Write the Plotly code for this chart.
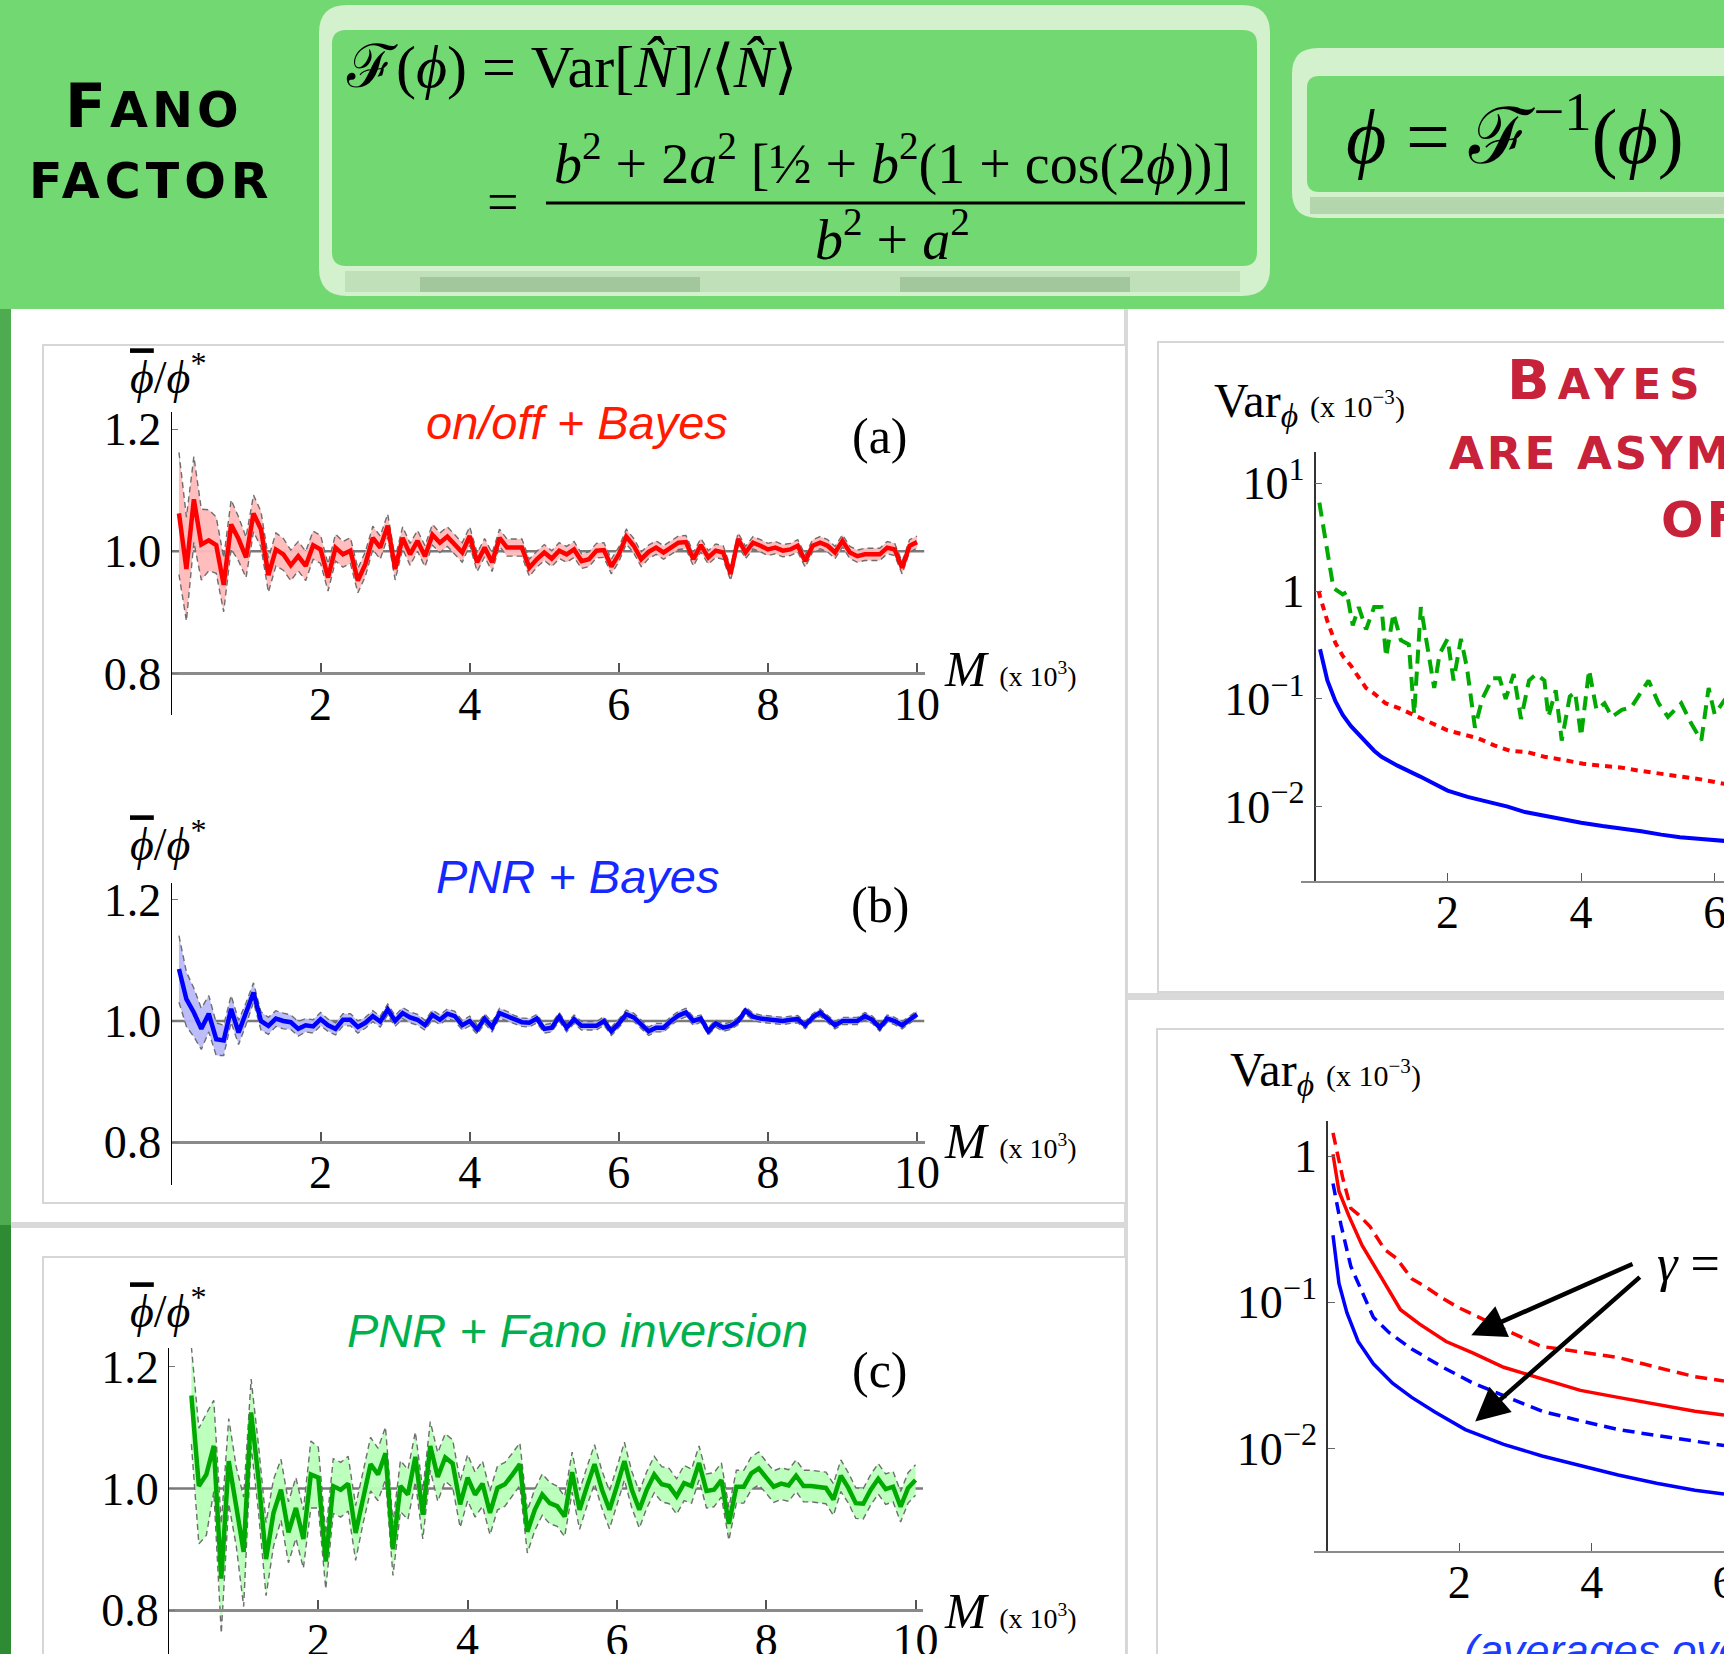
import numpy as np
import plotly.graph_objects as go

W, H = 1724, 1654
SERIF = "Liberation Serif, Times New Roman, serif"
SANS = "Liberation Sans, Arial, sans-serif"
CAPS = "DejaVu Sans, sans-serif"


def px(x):
    return x / W


def py(y):
    return 1 - y / H


# ---------------- data ----------------
M_AB = [round(0.1 * k, 1) for k in range(1, 101)]
M_C = [round(0.1 * k, 1) for k in range(3, 101)]

PHI_A = [1.062, 0.971, 1.085, 1.011, 1.018, 1.010, 0.945, 1.044, 1.020, 0.990,
         1.062, 1.036, 0.961, 1.003, 0.995, 0.977, 0.992, 0.976, 1.010, 1.003,
         0.957, 1.006, 0.995, 1.001, 0.952, 0.979, 1.022, 1.006, 1.042, 0.971,
         1.022, 0.995, 1.017, 0.992, 1.027, 1.014, 1.024, 1.011, 0.998, 1.025,
         0.982, 1.006, 0.982, 1.022, 1.006, 1.006, 1.006, 0.973, 0.987, 0.998,
         0.988, 1.001, 0.995, 1.003, 0.984, 0.987, 1.001, 1.002, 0.975, 0.995,
         1.024, 1.009, 0.987, 0.999, 1.006, 0.998, 1.006, 1.014, 1.015, 0.987,
         1.010, 0.990, 1.001, 0.998, 0.963, 1.020, 0.998, 1.014, 1.009, 1.003,
         1.006, 1.001, 1.003, 1.009, 0.984, 1.009, 1.014, 1.009, 0.998, 1.017,
         0.998, 0.992, 0.995, 0.995, 0.995, 1.006, 1.003, 0.973, 1.009, 1.015]
SIG_A = [0.100, 0.085, 0.070, 0.058, 0.050, 0.046, 0.044, 0.040, 0.036, 0.033,
         0.030, 0.029, 0.028, 0.027, 0.026, 0.025, 0.024, 0.024, 0.023, 0.023,
         0.022, 0.022, 0.021, 0.021, 0.020, 0.020, 0.019, 0.019, 0.019, 0.018,
         0.018, 0.018, 0.017, 0.017, 0.017, 0.016, 0.016, 0.016, 0.016, 0.015,
         0.015, 0.015, 0.015, 0.014, 0.014, 0.014, 0.014, 0.014, 0.013, 0.013,
         0.013, 0.013, 0.013, 0.013, 0.012, 0.012, 0.012, 0.012, 0.012, 0.012,
         0.012, 0.012, 0.012, 0.011, 0.011, 0.011, 0.011, 0.011, 0.011, 0.011,
         0.011, 0.011, 0.011, 0.011, 0.011, 0.010, 0.010, 0.010, 0.010, 0.010,
         0.010, 0.010, 0.010, 0.010, 0.010, 0.010, 0.010, 0.010, 0.010, 0.010,
         0.010, 0.010, 0.010, 0.010, 0.010, 0.010, 0.010, 0.010, 0.010, 0.010]

PHI_B = [1.086, 1.036, 1.014, 0.987, 1.012, 0.970, 0.968, 1.020, 0.981, 1.012,
         1.047, 1.000, 0.992, 1.004, 1.000, 0.998, 0.987, 0.993, 0.991, 1.003,
         0.993, 0.987, 1.002, 1.002, 0.990, 0.997, 1.008, 0.999, 1.019, 1.000,
         1.013, 1.006, 1.002, 0.993, 1.010, 1.002, 1.012, 1.008, 0.993, 1.000,
         0.986, 1.004, 0.990, 1.013, 1.008, 1.002, 0.998, 0.997, 1.004, 0.987,
         0.989, 1.007, 0.989, 1.003, 0.992, 0.992, 0.992, 1.000, 0.983, 0.996,
         1.011, 1.006, 0.994, 0.983, 0.989, 0.989, 1.000, 1.009, 1.014, 1.000,
         1.004, 0.983, 0.996, 0.989, 0.992, 1.000, 1.017, 1.007, 1.004, 1.003,
         1.002, 1.000, 1.002, 1.003, 0.993, 1.006, 1.014, 1.004, 0.993, 1.000,
         1.000, 1.000, 1.008, 1.002, 0.989, 1.004, 1.000, 0.993, 1.002, 1.011]
SIG_B = [0.055, 0.045, 0.040, 0.034, 0.030, 0.027, 0.025, 0.022, 0.020, 0.018,
         0.016, 0.015, 0.014, 0.013, 0.013, 0.012, 0.012, 0.011, 0.011, 0.011,
         0.010, 0.010, 0.010, 0.010, 0.010, 0.009, 0.009, 0.009, 0.009, 0.009,
         0.009, 0.009, 0.009, 0.008, 0.008, 0.008, 0.008, 0.008, 0.008, 0.008,
         0.008, 0.008, 0.008, 0.008, 0.008, 0.007, 0.007, 0.007, 0.007, 0.007,
         0.007, 0.007, 0.007, 0.007, 0.007, 0.007, 0.007, 0.007, 0.007, 0.007,
         0.007, 0.007, 0.007, 0.007, 0.007, 0.007, 0.007, 0.007, 0.007, 0.007,
         0.006, 0.006, 0.006, 0.006, 0.006, 0.006, 0.006, 0.006, 0.006, 0.006,
         0.006, 0.006, 0.006, 0.006, 0.006, 0.006, 0.006, 0.006, 0.006, 0.006,
         0.006, 0.006, 0.006, 0.006, 0.006, 0.006, 0.006, 0.006, 0.006, 0.006]

PHI_C = [1.153, 1.004, 1.023, 1.070, 0.852, 1.045, 0.971, 0.896, 1.125, 1.015,
         0.884, 0.960, 0.998, 0.928, 0.968, 0.917, 1.023, 1.018, 0.880, 1.004,
         0.998, 1.008, 0.927, 0.987, 1.040, 1.023, 1.058, 0.900, 1.004, 0.990,
         1.052, 0.957, 1.070, 1.019, 1.051, 1.041, 0.974, 1.018, 0.990, 1.008,
         0.960, 1.001, 1.007, 1.023, 1.040, 0.929, 0.965, 0.990, 0.976, 0.971,
         0.954, 1.027, 0.965, 1.004, 1.040, 0.998, 0.965, 1.004, 1.045, 0.998,
         0.965, 0.998, 1.023, 1.007, 1.004, 0.987, 1.009, 1.004, 1.042, 0.996,
         0.998, 1.014, 0.942, 1.003, 1.003, 1.025, 1.033, 1.018, 1.003, 1.008,
         1.005, 1.021, 1.004, 1.004, 1.003, 1.001, 0.982, 1.021, 1.001, 0.976,
         0.975, 0.998, 1.016, 0.999, 1.003, 0.970, 1.001, 1.014]
SIG_C = [0.080, 0.095, 0.100, 0.075, 0.090, 0.070, 0.065, 0.090, 0.055, 0.055,
         0.060, 0.055, 0.050, 0.050, 0.050, 0.048, 0.055, 0.050, 0.045, 0.045,
         0.045, 0.045, 0.045, 0.044, 0.044, 0.043, 0.043, 0.043,
         0.042, 0.041, 0.041, 0.040, 0.040, 0.040, 0.039, 0.039, 0.038, 0.038,
         0.037, 0.037, 0.036, 0.036, 0.036, 0.035, 0.035, 0.035, 0.034, 0.034,
         0.034, 0.033, 0.033, 0.033, 0.032, 0.032, 0.032, 0.031, 0.031, 0.031,
         0.031, 0.030, 0.030, 0.030, 0.030, 0.029, 0.029, 0.029, 0.029, 0.028,
         0.028, 0.028, 0.028, 0.028, 0.027, 0.027, 0.027, 0.027, 0.027, 0.026,
         0.026, 0.026, 0.026, 0.026, 0.026, 0.026, 0.026, 0.026, 0.026, 0.026,
         0.025, 0.025, 0.025, 0.025, 0.025, 0.025, 0.025, 0.025, 0.025, 0.025]

# right-top panel (Var_phi, x 1e-3)
M_FANO = [0.08, 0.29, 0.43, 0.49, 0.58, 0.67, 0.78, 0.90, 1.01, 1.08, 1.19, 1.30, 1.42, 1.50,
          1.60, 1.71, 1.80, 1.88, 2.00, 2.09, 2.20, 2.29, 2.41, 2.52, 2.67, 2.78, 2.87, 2.99,
          3.10, 3.22, 3.33, 3.45, 3.51, 3.62, 3.71, 3.83, 3.91, 4.00, 4.12, 4.23, 4.35, 4.46,
          4.61, 4.75, 4.87, 5.01, 5.16, 5.30, 5.50, 5.65, 5.80, 5.91, 6.00, 6.16]
VAR_FANO = [6.61, 1.07, 0.93, 0.98, 0.48, 0.71, 0.44, 0.71, 0.71, 0.245, 0.62, 0.35, 0.32, 0.072,
            0.71, 0.28, 0.126, 0.26, 0.36, 0.148, 0.36, 0.195, 0.054, 0.10, 0.155, 0.155, 0.10, 0.17,
            0.065, 0.148, 0.17, 0.148, 0.068, 0.12, 0.041, 0.105, 0.115, 0.045, 0.186, 0.079, 0.091,
            0.068, 0.079, 0.083, 0.11, 0.148, 0.091, 0.068, 0.091, 0.059, 0.041, 0.126, 0.072, 0.10]
M_ONOFF = [0.07, 0.09, 0.2, 0.32, 0.43, 0.55, 0.67, 0.78, 0.9, 1.07, 1.25, 1.48, 1.75, 2.0, 2.25,
           2.46, 2.7, 2.93, 3.2, 3.45, 3.75, 4.03, 4.3, 4.61, 4.9, 5.19, 5.5, 5.77, 6.16]
VAR_ONOFF = [1.0, 0.89, 0.525, 0.33, 0.25, 0.204, 0.158, 0.126, 0.112, 0.091, 0.083, 0.072, 0.060,
             0.051, 0.047, 0.043, 0.037, 0.033, 0.032, 0.029, 0.027, 0.025, 0.024, 0.023, 0.0214,
             0.020, 0.019, 0.018, 0.0162]
M_PNR = [0.09, 0.2, 0.32, 0.43, 0.55, 0.67, 0.78, 0.9, 1.01, 1.25, 1.59, 2.0, 2.3, 2.58, 2.9, 3.16,
         3.5, 3.74, 4.0, 4.32, 4.6, 4.9, 5.2, 5.48, 5.8, 6.16]
VAR_PNR = [0.288, 0.148, 0.095, 0.071, 0.056, 0.047, 0.039, 0.033, 0.029, 0.024, 0.019, 0.0141,
           0.0123, 0.0112, 0.0100, 0.0089, 0.0081, 0.0076, 0.0071, 0.0066, 0.0063, 0.0059, 0.0055,
           0.0052, 0.0050, 0.0048]

# right-bottom panel (gamma comparison)
M_RD = [0.09, 0.24, 0.36, 0.47, 0.65, 0.87, 1.05, 1.28, 1.51, 1.74, 1.97, 2.31, 2.66, 3.24, 3.83,
        4.4, 4.98, 5.56, 6.0]
VAR_RD = [1.44, 0.70, 0.44, 0.40, 0.33, 0.23, 0.20, 0.145, 0.126, 0.107, 0.093, 0.078, 0.066,
          0.050, 0.046, 0.042, 0.036, 0.031, 0.029]
M_RS = [0.09, 0.18, 0.33, 0.53, 0.82, 1.11, 1.4, 1.8, 2.21, 2.67, 3.25, 3.83, 4.4, 4.98, 5.56, 6.0]
VAR_RS = [1.03, 0.575, 0.39, 0.245, 0.148, 0.089, 0.071, 0.054, 0.045, 0.036, 0.030, 0.025,
          0.0224, 0.020, 0.018, 0.017]
M_BD = [0.09, 0.21, 0.36, 0.53, 0.7, 0.94, 1.28, 1.75, 2.21, 2.67, 3.25, 3.83, 4.4, 4.98, 5.56, 6.0]
VAR_BD = [0.65, 0.34, 0.176, 0.119, 0.079, 0.062, 0.048, 0.036, 0.028, 0.023, 0.018, 0.0155,
          0.0135, 0.0123, 0.0112, 0.0105]
M_BS = [0.09, 0.18, 0.3, 0.47, 0.7, 0.99, 1.28, 1.63, 2.09, 2.67, 3.25, 3.83, 4.4, 4.98, 5.56, 6.0]
VAR_BS = [0.288, 0.135, 0.085, 0.054, 0.038, 0.028, 0.0224, 0.0178, 0.0135, 0.0107, 0.0089,
          0.0076, 0.0066, 0.0058, 0.0052, 0.0049]
ARROW_TIPS = [(2.18, 0.0596), (2.24, 0.0153)]
ARROW_TAILS = [(4.64, 0.185), (4.75, 0.152)]

TICKS_M = [2, 4, 6, 8, 10]
TICKS_PHI = [0.8, 1.0, 1.2]
TICKTEXT_PHI = ["0.8", "1.0", "1.2"]

# ---------------- figure ----------------
fig = go.Figure()

BAND_LINE = dict(color="#6e6e6e", width=1.4, dash="6px,4px")


def band_panel(idx, m, mean, sig, color, fill):
    lo = [a - s for a, s in zip(mean, sig)]
    hi = [a + s for a, s in zip(mean, sig)]
    xa, ya = f"x{idx}", f"y{idx}"
    fig.add_trace(go.Scatter(x=m, y=lo, mode="lines", line=BAND_LINE, xaxis=xa, yaxis=ya,
                             hoverinfo="skip"))
    fig.add_trace(go.Scatter(x=m, y=hi, mode="lines", line=BAND_LINE, fill="tonexty",
                             fillcolor=fill, xaxis=xa, yaxis=ya, hoverinfo="skip"))
    fig.add_trace(go.Scatter(x=m, y=mean, mode="lines", line=dict(color=color, width=4.5),
                             xaxis=xa, yaxis=ya))


band_panel(1, M_AB, PHI_A, SIG_A, "#ff0000", "rgba(255,185,185,0.95)")
band_panel(2, M_AB, PHI_B, SIG_B, "#0000ff", "rgba(185,185,250,0.95)")
band_panel(3, M_C, PHI_C, SIG_C, "#00aa00", "rgba(185,255,185,0.95)")

fig.add_trace(go.Scatter(x=M_FANO, y=VAR_FANO, mode="lines", xaxis="x4", yaxis="y4",
                         line=dict(color="#00aa00", width=4, dash="14px,8px")))
fig.add_trace(go.Scatter(x=M_ONOFF, y=VAR_ONOFF, mode="lines", xaxis="x4", yaxis="y4",
                         line=dict(color="#ff0000", width=4, dash="7px,6px")))
fig.add_trace(go.Scatter(x=M_PNR, y=VAR_PNR, mode="lines", xaxis="x4", yaxis="y4",
                         line=dict(color="#0000ff", width=4)))

fig.add_trace(go.Scatter(x=M_RD, y=VAR_RD, mode="lines", xaxis="x5", yaxis="y5",
                         line=dict(color="#ff0000", width=3.5, dash="12px,7px")))
fig.add_trace(go.Scatter(x=M_RS, y=VAR_RS, mode="lines", xaxis="x5", yaxis="y5",
                         line=dict(color="#ff0000", width=3.5)))
fig.add_trace(go.Scatter(x=M_BD, y=VAR_BD, mode="lines", xaxis="x5", yaxis="y5",
                         line=dict(color="#0000ff", width=3.5, dash="12px,7px")))
fig.add_trace(go.Scatter(x=M_BS, y=VAR_BS, mode="lines", xaxis="x5", yaxis="y5",
                         line=dict(color="#0000ff", width=3.5)))

tickfont = dict(family=SERIF, size=46, color="black")
COMMON = dict(showgrid=False, zeroline=False, fixedrange=True, automargin=False,
              ticklabeloverflow="allow")


def lin_axes(idx, xpx, ypx, xrange, yrange):
    ydom = [py(ypx[1]), py(ypx[0])]
    pos = ydom[0] + (0.8 - yrange[0]) / (yrange[1] - yrange[0]) * (ydom[1] - ydom[0])
    sfx = "" if idx == 1 else str(idx)
    fig.layout[f"xaxis{sfx}"] = dict(
        domain=[px(xpx[0]), px(xpx[1])], range=xrange, anchor="free", position=pos,
        showline=True, linecolor="#8a8a8a", linewidth=3, ticks="inside", ticklen=9,
        tickwidth=1.5, tickcolor="#555", tickvals=TICKS_M, tickfont=tickfont,
        ticklabelstandoff=-11, **COMMON)
    fig.layout[f"yaxis{sfx}"] = dict(
        domain=ydom, range=yrange, anchor=f"x{idx}", showline=True, linecolor="black",
        linewidth=1.2, ticks="inside", ticklen=6, tickcolor="#777", tickvals=TICKS_PHI,
        ticktext=TICKTEXT_PHI, tickfont=tickfont, **COMMON)


lin_axes(1, (171.5, 924.5), (412, 715), [0, 10.1], [0.732, 1.228])
lin_axes(2, (171.5, 924.5), (883, 1185), [0, 10.1], [0.729, 1.228])
lin_axes(3, (169, 923), (1348, 1654), [0, 10.1], [0.728, 1.231])


def log_axes(idx, xpx_left, ypx, yaxis_px, xrange, yrange, tvals, ttext):
    fig.layout[f"xaxis{idx}"] = dict(
        domain=[px(xpx_left), 1], range=xrange, anchor=f"y{idx}", showline=True,
        linecolor="#8a8a8a", linewidth=2, ticks="inside", ticklen=8, tickwidth=1.2,
        tickcolor="#555", tickvals=TICKS_M, tickfont=tickfont, ticklabelstandoff=-10,
        **COMMON)
    fig.layout[f"yaxis{idx}"] = dict(
        domain=[py(ypx[1]), py(ypx[0])], type="log", range=yrange, anchor="free",
        position=px(yaxis_px), showline=True, linecolor="#333", linewidth=1.5,
        ticks="inside", ticklen=7, tickcolor="#666", tickvals=tvals, ticktext=ttext,
        tickfont=tickfont, **COMMON)


log_axes(4, 1301, (452, 881), 1314.5, [-0.195, 6.14], [-2.69, 1.29],
         [10, 1, 0.1, 0.01], ["10<sup>1</sup>", "1", "10<sup>−1</sup>", "10<sup>−2</sup>"])
log_axes(5, 1313.8, (1121, 1551), 1327.0, [-0.2, 6.0], [-2.70, 0.24],
         [1, 0.1, 0.01], ["1", "10<sup>−1</sup>", "10<sup>−2</sup>"])

# ---------------- background shapes ----------------
shapes = []


def rect(x0, y0, x1, y1, fill, line=None, lw=0):
    shapes.append(dict(type="rect", xref="paper", yref="paper", x0=px(x0), x1=px(x1),
                       y0=py(y1), y1=py(y0), fillcolor=fill, layer="below",
                       line=dict(color=line or fill, width=lw)))


def rrect(x0, y0, x1, y1, r, fill):
    pts = (f"M {px(x0 + r)},{py(y0)} L {px(x1 - r)},{py(y0)} Q {px(x1)},{py(y0)} {px(x1)},{py(y0 + r)} "
           f"L {px(x1)},{py(y1 - r)} Q {px(x1)},{py(y1)} {px(x1 - r)},{py(y1)} "
           f"L {px(x0 + r)},{py(y1)} Q {px(x0)},{py(y1)} {px(x0)},{py(y1 - r)} "
           f"L {px(x0)},{py(y0 + r)} Q {px(x0)},{py(y0)} {px(x0 + r)},{py(y0)} Z")
    shapes.append(dict(type="path", xref="paper", yref="paper", path=pts, fillcolor=fill,
                       layer="below", line=dict(width=0)))


rect(0, -5, W + 5, 309, "#72d872")
rect(-5, 309, 11, 1225, "#4fab4f")
rect(-5, 1225, 11, H + 5, "#2f8a34")
rect(11, 309, 1124, 1222, "white")
rect(11, 1228, 1124, H + 5, "white")
rect(43, 345, 1126, 1203, "white", "#d6d6d6", 2)
rect(43, 1257, 1126, H + 20, "white", "#d6d6d6", 2)
rect(1128, 309, W + 5, 993, "white")
rect(1128, 1000, W + 5, H + 5, "white")
rect(1158, 342, W + 20, 992, "white", "#d6d6d6", 2)
rect(1157, 1029, W + 20, H + 20, "white", "#d6d6d6", 2)
# torn-paper formula boxes
rrect(319, 5, 1270, 296, 28, "#d3f1cc")
rrect(332, 30, 1257, 266, 14, "#72d872")
rect(345, 271, 1240, 292, "#bfe0b8")
rect(420, 277, 700, 292, "#a3c79c")
rect(900, 277, 1130, 292, "#a3c79c")
rrect(1292, 48, W + 40, 218, 26, "#d3f1cc")
rrect(1307, 76, W + 40, 192, 12, "#72d872")
rect(1310, 197, W + 10, 214, "#b3d6ac")
# fraction bar
shapes.append(dict(type="line", xref="paper", yref="paper", x0=px(546), x1=px(1245),
                   y0=py(203), y1=py(203), line=dict(color="black", width=3)))
# reference lines at 1.0
for i in (1, 2, 3):
    shapes.append(dict(type="line", xref=f"x{i}", yref=f"y{i}", x0=0, x1=10.1, y0=1.0, y1=1.0,
                       line=dict(color="#7a7a7a", width=2.5), layer="below"))

# ---------------- annotations ----------------
ann = []


def txt(text, x, y, size, color="black", family=SERIF, xanchor="center", yanchor="middle"):
    ann.append(dict(text=text, x=px(x), y=py(y), xref="paper", yref="paper", showarrow=False,
                    font=dict(size=size, color=color, family=family), xanchor=xanchor,
                    yanchor=yanchor))


# header
txt('<b><span style="letter-spacing:4px"><span style="font-size:60px">F</span>ANO</span></b>',
    154, 106, 49, family=CAPS)
txt('<b><span style="letter-spacing:5px">FACTOR</span></b>', 151, 181, 49, family=CAPS)
txt("ℱ(<i>ϕ</i>) = Var[<i>N̂</i>]/⟨<i>N̂</i>⟩", 344, 67, 60, xanchor="left")
txt("=", 503, 202, 56)
txt("<i>b</i><sup>2</sup> + 2<i>a</i><sup>2</sup> [½ + <i>b</i><sup>2</sup>(1 + cos(2<i>ϕ</i>))]",
    892, 160, 56)
txt("<i>b</i><sup>2</sup> + <i>a</i><sup>2</sup>", 893, 236, 56)
txt("<i>ϕ</i> = ℱ<sup>−1</sup>(<i>ϕ</i>)", 1515, 131, 78)

RED_T = "#c8213a"
txt('<b><span style="letter-spacing:8px">B<span style="font-size:42px">AYES ESTIMATORS</span></span></b>',
    1505, 379, 56, color=RED_T, family=CAPS, xanchor="left")
txt('<b><span style="letter-spacing:3px">ARE ASYMPTOTICALLY</span></b>', 1447, 453, 45,
    color=RED_T, family=CAPS, xanchor="left")
txt('<b><span style="letter-spacing:3px">OF</span></b>', 1659, 520, 50, color=RED_T,
    family=CAPS, xanchor="left")

# left panels
PHI_LABEL = '<span style="text-decoration:overline"><i>ϕ</i></span>/<i>ϕ</i><sup>*</sup>'
M_LABEL = '<i>M</i> <span style="font-size:28px">(x 10<sup>3</sup>)</span>'
for (ly, ty, ay_, my, name, col, tag) in [
        (374, 423, 436, 669, "on/off + Bayes", "#ff1a00", "(a)"),
        (841, 877, 905, 1141, "PNR + Bayes", "#1428ff", "(b)"),
        (1308, 1330, 1370, 1611, "PNR + Fano inversion", "#00b04f", "(c)")]:
    txt(PHI_LABEL, 168, ly, 46)
    txt(f"<i>{name}</i>", 577, ty, 47, color=col, family=SANS)
    txt(tag, 880, ay_, 50)
    txt(M_LABEL, 942, my, 50, xanchor="left")

VAR_LABEL = 'Var<sub><i>ϕ</i></sub> <span style="font-size:30px">(x 10<sup>−3</sup>)</span>'
txt(VAR_LABEL, 1212, 404, 48, xanchor="left")
txt(VAR_LABEL, 1228, 1073, 48, xanchor="left")
txt("<i>γ</i> = 0", 1655, 1263, 52, xanchor="left")
txt("<i>(averages over</i>", 1462, 1624, 44, color="#1a3cff", family=SANS, xanchor="left",
    yanchor="top")

for (tx, tyv), (sx, syv) in zip(ARROW_TIPS, ARROW_TAILS):
    ann.append(dict(x=tx, y=np.log10(tyv), ax=sx, ay=np.log10(syv), xref="x5", yref="y5",
                    axref="x5", ayref="y5", text="", showarrow=True, arrowhead=2,
                    arrowsize=1.5, arrowwidth=4.5, arrowcolor="black"))

fig.update_layout(
    width=W, height=H, autosize=False, margin=dict(l=0, r=0, t=0, b=0, pad=0),
    paper_bgcolor="#d9d9d9", plot_bgcolor="rgba(0,0,0,0)", showlegend=False,
    shapes=shapes, annotations=ann, hovermode=False)

fig.write_html("out.html", config={"displayModeBar": False},
               post_script="document.body.style.margin='0';document.body.style.overflow='hidden';")
